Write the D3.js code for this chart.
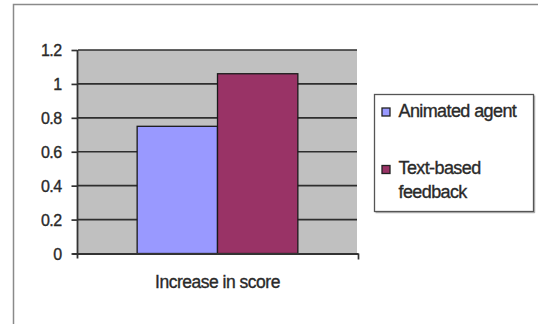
<!DOCTYPE html>
<html><head><meta charset="utf-8">
<script src="https://cdn.jsdelivr.net/npm/d3@7"></script>
<style>html,body{margin:0;padding:0;background:#fff;}svg{display:block;}</style>
</head><body>
<script>
const categories = ["Increase in score"];
const seriesNames = ["Animated agent", "Text-based feedback"];
const seriesValues = [0.75, 1.06];
const seriesColors = ["#9999ff", "#993366"];
const yTicks = [0, 0.2, 0.4, 0.6, 0.8, 1, 1.2];
const legendLines = [["Animated agent"], ["Text-based", "feedback"]];

const W = 538, H = 324;
const svg = d3.select("body").append("svg").attr("width", W).attr("height", H);
const font = "Liberation Sans, Arial, sans-serif";
const txtCol = "#2a2a2a";

// outer frame
svg.append("path").attr("d", `M13.5,${H} V4.5 H${W}`).attr("fill","none").attr("stroke","#8a8a8a").attr("stroke-width",1.5);

const plot = {left: 78, right: 357, top: 50, bottom: 253.5};
const y = d3.scaleLinear().domain([0, 1.2]).range([plot.bottom, plot.top]);
const x0 = d3.scaleBand().domain(categories).range([plot.left, plot.right]).paddingInner(0).paddingOuter(0.368);
const x1 = d3.scaleBand().domain(seriesNames).range([0, x0.bandwidth()]);

svg.append("rect").attr("x", plot.left).attr("y", plot.top).attr("width", plot.right - plot.left).attr("height", plot.bottom - plot.top).attr("fill", "#c0c0c0");

// gridlines
svg.append("g").selectAll("line").data(yTicks.filter(d => d > 0)).join("line")
  .attr("x1", plot.left).attr("x2", plot.right)
  .attr("y1", d => y(d)).attr("y2", d => y(d))
  .attr("stroke", "#2e2e2e").attr("stroke-width", 1.7);

// bars
const data = seriesNames.map((s, i) => ({cat: categories[0], s, v: seriesValues[i], c: seriesColors[i]}));
svg.append("g").selectAll("rect").data(data).join("rect")
  .attr("x", d => x0(d.cat) + x1(d.s))
  .attr("y", d => y(d.v))
  .attr("width", x1.bandwidth())
  .attr("height", d => y(0) - y(d.v))
  .attr("fill", d => d.c).attr("stroke", "#1a1a1a").attr("stroke-width", 1.3);

// y axis
const yAxis = d3.axisLeft(y).tickValues(yTicks).tickFormat(d3.format("")).tickSize(6).tickPadding(10).tickSizeOuter(0);
const gy = svg.append("g").attr("transform", `translate(${plot.left - 0.5},0)`).call(yAxis);
gy.select(".domain").attr("stroke", "#333").attr("stroke-width", 1.8).attr("d", `M0,${plot.top}V${plot.bottom + 5}`);
gy.selectAll(".tick line").attr("stroke", "#333").attr("stroke-width", 1.7);
gy.selectAll(".tick text").attr("font-family", font).attr("font-size", 16).attr("fill", txtCol)
  .attr("stroke", txtCol).attr("stroke-width", 0.35).attr("letter-spacing", "-0.6").attr("dy", "0.36em");

// x axis
const xAxis = d3.axisBottom(d3.scaleLinear().domain([0,1]).range([plot.left - 6, plot.right + 1])).tickValues([1]).tickFormat("").tickSize(6).tickSizeOuter(0);
const gx = svg.append("g").attr("transform", `translate(0,${plot.bottom})`).call(xAxis);
gx.select(".domain").attr("stroke", "#333").attr("stroke-width", 2.2);
gx.selectAll(".tick line").attr("stroke", "#333").attr("stroke-width", 1.7);

svg.append("text").attr("x", x0(categories[0]) + x0.bandwidth()/2).attr("y", 287.5)
  .attr("text-anchor", "middle").attr("font-family", font).attr("font-size", 17.5).attr("letter-spacing", "-0.5")
  .attr("fill", txtCol).attr("stroke", txtCol).attr("stroke-width", 0.35)
  .text(categories[0]);

// legend
const lg = svg.append("g");
lg.append("rect").attr("x", 374.5).attr("y", 94.5).attr("width", 159).attr("height", 117)
  .attr("fill", "#fff").attr("stroke", "#555").attr("stroke-width", 1.3);
lg.append("path").attr("d", "M375.5,212.7 H534.7 V95.5").attr("fill","none").attr("stroke","#999").attr("stroke-width",1);
const legY = [116.5, 174];
legendLines.forEach((lines, i) => {
  lg.append("rect").attr("x", 382).attr("y", legY[i] - 8.5).attr("width", 8).attr("height", 8)
    .attr("fill", seriesColors[i]).attr("stroke", "#222").attr("stroke-width", 1.3);
  lines.forEach((t, j) => {
    lg.append("text").attr("x", 398.5).attr("y", legY[i] + j * 24)
      .attr("font-family", font).attr("font-size", 18).attr("letter-spacing", "-0.6")
      .attr("fill", txtCol).attr("stroke", txtCol).attr("stroke-width", 0.35).text(t);
  });
});
</script>
</body></html>
